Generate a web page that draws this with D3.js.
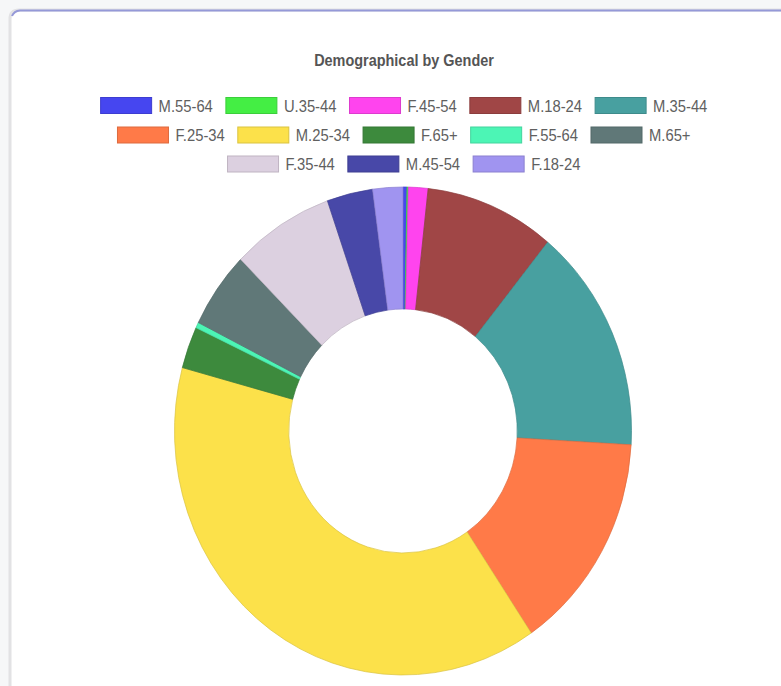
<!DOCTYPE html>
<html>
<head>
<meta charset="utf-8">
<script src="https://cdn.jsdelivr.net/npm/d3@7"></script>
<style>
  html, body { margin: 0; padding: 0; background: #f6f7f8; }
  svg { display: block; }
</style>
</head>
<body>
<svg id="chart" width="781" height="686"></svg>
<script>
const title = "Demographical by Gender";

const categories = ["M.55-64", "U.35-44", "F.45-54", "M.18-24", "M.35-44", "F.25-34",
  "M.25-34", "F.65+", "F.55-64", "M.65+", "F.35-44", "M.45-54", "F.18-24"];
const counts = [3, 1, 15, 99, 162, 158, 418, 30, 4, 55, 78, 35, 23];
const colors = ["#4646f0", "#44ee44", "#ff44ee", "#a04646", "#48a0a0", "#ff7a48",
  "#fce14a", "#3d8a3d", "#4cf5b5", "#607878", "#dcd0e0", "#4848a8", "#a094f0"];
const legendRows = [[0, 1, 2, 3, 4], [5, 6, 7, 8, 9], [10, 11, 12]];

const width = 781, height = 686;
const svg = d3.select("#chart");
const textScale = 0.87; // the picture's type is narrow

// card
svg.append("rect").attr("width", width).attr("height", height).attr("fill", "#f6f7f8");
svg.append("path")
  .attr("d", "M10,700 L10,19 Q10,10 19,10 L790,10 L790,700 Z")
  .attr("fill", "#fff")
  .attr("stroke", "#e2e2e4")
  .attr("stroke-width", 3);
svg.append("path")
  .attr("d", "M12,16 Q14,11 20,10.5 L790,10.5")
  .attr("fill", "none")
  .attr("stroke", "#9599d8")
  .attr("stroke-width", 2);

// title
svg.append("text")
  .attr("transform", `translate(404,66) scale(0.85,1)`)
  .attr("text-anchor", "middle")
  .attr("font-family", "Liberation Sans, Arial, sans-serif")
  .attr("font-size", 17)
  .attr("font-weight", "bold")
  .attr("fill", "#555")
  .text(title);

// legend
const boxW = 51, boxH = 16, boxGap = 7, itemGap = 13;
const rowY = [105.5, 135, 164];
const legendCenter = 404;

legendRows.forEach((row, r) => {
  const g = svg.append("g");
  const items = row.map((i) => {
    const t = g.append("text")
      .attr("font-family", "Liberation Sans, Arial, sans-serif")
      .attr("font-size", 17)
      .attr("fill", "#606060")
      .text(categories[i]);
    return { i, t, w: t.node().getComputedTextLength() * textScale };
  });
  const total = d3.sum(items, (d) => boxW + boxGap + d.w) + itemGap * (items.length - 1);
  let x = legendCenter - total / 2;
  items.forEach((d) => {
    g.append("rect")
      .attr("x", x).attr("y", rowY[r] - boxH / 2)
      .attr("width", boxW).attr("height", boxH)
      .attr("fill", colors[d.i])
      .attr("stroke", d3.color(colors[d.i]).darker(0.4))
      .attr("stroke-width", 1);
    d.t.attr("transform", `translate(${x + boxW + boxGap},${rowY[r] + 6}) scale(${textScale},1)`);
    x += boxW + boxGap + d.w + itemGap;
  });
});

// doughnut (the picture is slightly squeezed sideways)
const cx = 403, cy = 431, outerR = 244, squeeze = 0.9365;
const pie = d3.pie().sort(null).value((d) => d);
const arc = d3.arc().innerRadius(outerR * 0.5).outerRadius(outerR);

svg.append("g")
  .attr("transform", `translate(${cx},${cy}) scale(${squeeze},1)`)
  .selectAll("path")
  .data(pie(counts))
  .join("path")
  .attr("d", arc)
  .attr("fill", (d, i) => colors[i])
  .attr("stroke", (d, i) => d3.color(colors[i]).darker(0.4))
  .attr("stroke-width", 0.7)
  .attr("vector-effect", "non-scaling-stroke");
</script>
</body>
</html>
